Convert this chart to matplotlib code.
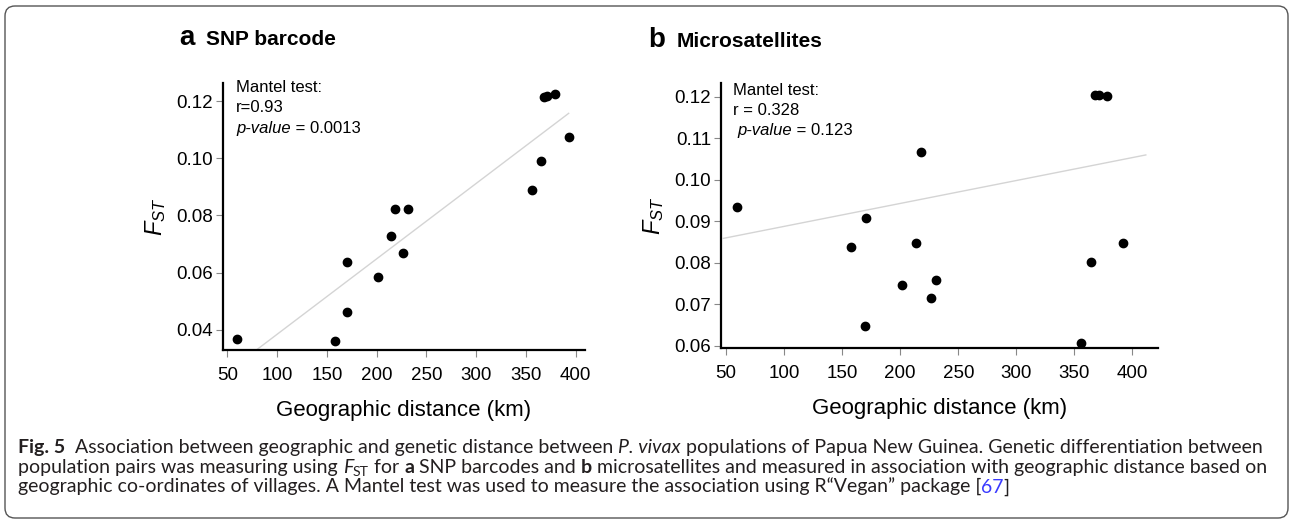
import matplotlib
matplotlib.use('Agg')
import matplotlib.pyplot as plt
from matplotlib.patches import FancyBboxPatch
from matplotlib.transforms import IdentityTransform

# SNP barcode: distance (km) vs FST
snp_km = [59.4, 158.2, 169.9, 170.6, 201.7, 214.1, 218.1, 226.8, 231.5,
          356.4, 365.1, 368.5, 371.5, 378.9, 392.9]
snp_fst = [0.0369, 0.0362, 0.0462, 0.0636, 0.0585, 0.0730, 0.0822, 0.0670, 0.0822,
           0.0888, 0.0989, 0.1213, 0.1217, 0.1224, 0.1075]
snp_fit_km = [59.4, 392.9]
snp_fit_fst = [0.0278, 0.1157]

# Microsatellites
ms_km = [59.2, 157.7, 170.3, 169.8, 201.6, 213.6, 217.9, 226.8, 231.2,
         355.8, 364.1, 367.9, 371.3, 378.2, 392.0]
ms_fst = [0.0934, 0.0838, 0.0909, 0.0647, 0.0746, 0.0847, 0.1068, 0.0715, 0.0758,
          0.0608, 0.0801, 0.1205, 0.1205, 0.1201, 0.0849]
ms_fit_km = [47.7, 411.5]
ms_fit_fst = [0.0859, 0.1060]

x_ticks = [50, 100, 150, 200, 250, 300, 350, 400]
snp_yticks = [0.04, 0.06, 0.08, 0.10, 0.12]
snp_ylabels = ['0.04', '0.06', '0.08', '0.10', '0.12']
ms_yticks = [0.06, 0.07, 0.08, 0.09, 0.10, 0.11, 0.12]
ms_ylabels = ['0.06', '0.07', '0.08', '0.09', '0.10', '0.11', '0.12']

W, H = 1290, 522
plt.rcParams['font.family'] = 'Liberation Sans'
plt.rcParams['mathtext.fontset'] = 'custom'
plt.rcParams['mathtext.rm'] = 'Liberation Sans'
plt.rcParams['mathtext.it'] = 'Liberation Sans:italic'

fig = plt.figure(figsize=(W / 100, H / 100), dpi=100)
rend = fig.canvas.get_renderer()


def box(l, t, r, b):
    return [l / W, 1 - b / H, (r - l) / W, (b - t) / H]


def run_width(s, **kw):
    t1 = fig.text(0, 0, '|' + s + '|', **kw)
    t2 = fig.text(0, 0, '||', **kw)
    w = t1.get_window_extent(rend).width - t2.get_window_extent(rend).width
    t1.remove()
    t2.remove()
    return w


def draw_runs(x, y, runs, **base):
    # text pieces with mixed styles on one baseline (pixels, top-left origin)
    for s, kw in runs:
        kw = {**base, **kw}
        dy = kw.pop('dy', 0)
        fig.text(x / W, 1 - (y + dy) / H, s, va='baseline', ha='left', **kw)
        x += run_width(s, **kw)
    return x


def style_axes(ax, xlim, ylim, yticks, ylabels):
    ax.set_xlim(*xlim)
    ax.set_ylim(*ylim)
    ax.set_xticks(x_ticks)
    ax.set_yticks(yticks)
    ax.set_yticklabels(ylabels)
    for s in ['top', 'right']:
        ax.spines[s].set_visible(False)
    for s in ['left', 'bottom']:
        ax.spines[s].set_linewidth(1.6)
    ax.tick_params(axis='both', direction='out', length=5, width=0.8,
                   color='#888888', labelsize=13.5)
    ax.tick_params(axis='x', pad=7)
    ax.tick_params(axis='y', pad=2)
    ax.set_xlabel('Geographic distance (km)', fontsize=16, labelpad=12)
    ax.set_ylabel(r'$F_{ST}$', fontsize=17, labelpad=6)
    ax.patch.set_alpha(0)


# panel a
ax1 = fig.add_axes(box(222.7, 83, 585, 350))
ax1.plot(snp_fit_km, snp_fit_fst, color='#d4d4d4', lw=1)
ax1.scatter(snp_km, snp_fst, s=36, color='black', zorder=3, clip_on=False)
style_axes(ax1, (45.3, 409.3), (0.0330, 0.1263), snp_yticks, snp_ylabels)

# panel b
ax2 = fig.add_axes(box(721, 82.7, 1158, 348))
ax2.plot(ms_fit_km, ms_fit_fst, color='#d4d4d4', lw=1)
ax2.scatter(ms_km, ms_fst, s=36, color='black', zorder=3, clip_on=False)
style_axes(ax2, (45.7, 422), (0.0595, 0.1234), ms_yticks, ms_ylabels)

# panel titles
draw_runs(179, 45, [('a', dict(fontsize=20)), ('  ', {}), ('SNP barcode', {})],
          fontsize=15, weight='bold')
draw_runs(648, 47, [('b', dict(fontsize=20)), ('  ', {}), ('Microsatellites', {})],
          fontsize=15, weight='bold')

# Mantel test notes
mt = dict(fontsize=12)
draw_runs(236, 92, [('Mantel test:', {})], **mt)
draw_runs(236, 112, [('r=0.93', {})], **mt)
draw_runs(236, 133, [('p-value', dict(style='italic')), (' = 0.0013', {})], **mt)
draw_runs(733, 95, [('Mantel test:', {})], **mt)
draw_runs(733, 115, [('r = 0.328', {})], **mt)
draw_runs(733, 135, [(' ', {}), ('p-value', dict(style='italic')), (' = 0.123', {})], **mt)

# caption
cap_font = ['Lato', 'Open Sans', 'DejaVu Sans']
cap_col = '#231f20'
line1 = [('Fig. 5', dict(weight='bold')),
         ('  Association between geographic and genetic distance between ', {}),
         ('P. vivax', dict(style='italic')),
         (' populations of Papua New Guinea. Genetic differentiation between', {})]
w10 = sum(run_width(s, family=cap_font, fontsize=10, **kw) for s, kw in line1)
cs = 10 * 1244 / w10
cap = dict(family=cap_font, fontsize=cs, color=cap_col)
line2 = [('population pairs was measuring using ', {}),
         ('F', dict(style='italic')),
         ('ST', dict(fontsize=cs * 0.72, dy=3)),
         (' for ', {}), ('a', dict(weight='bold')),
         (' SNP barcodes and ', {}), ('b', dict(weight='bold')),
         (' microsatellites and measured in association with geographic distance based on', {})]
line3 = [('geographic co-ordinates of villages. A Mantel test was used to measure the '
          'association using R\u201cVegan\u201d package [', {}),
         ('67', dict(color='#3a3aff')), (']', {})]
draw_runs(18, 453, line1, **cap)
draw_runs(18, 473, line2, **cap)
draw_runs(18, 493, line3, **cap)

frame = FancyBboxPatch((5, H - 518), 1283, 512, boxstyle='round,pad=0,rounding_size=10',
                       transform=IdentityTransform(), fill=False, ec='#555555', lw=1)
fig.add_artist(frame)

fig.savefig('out.png', dpi=100)
